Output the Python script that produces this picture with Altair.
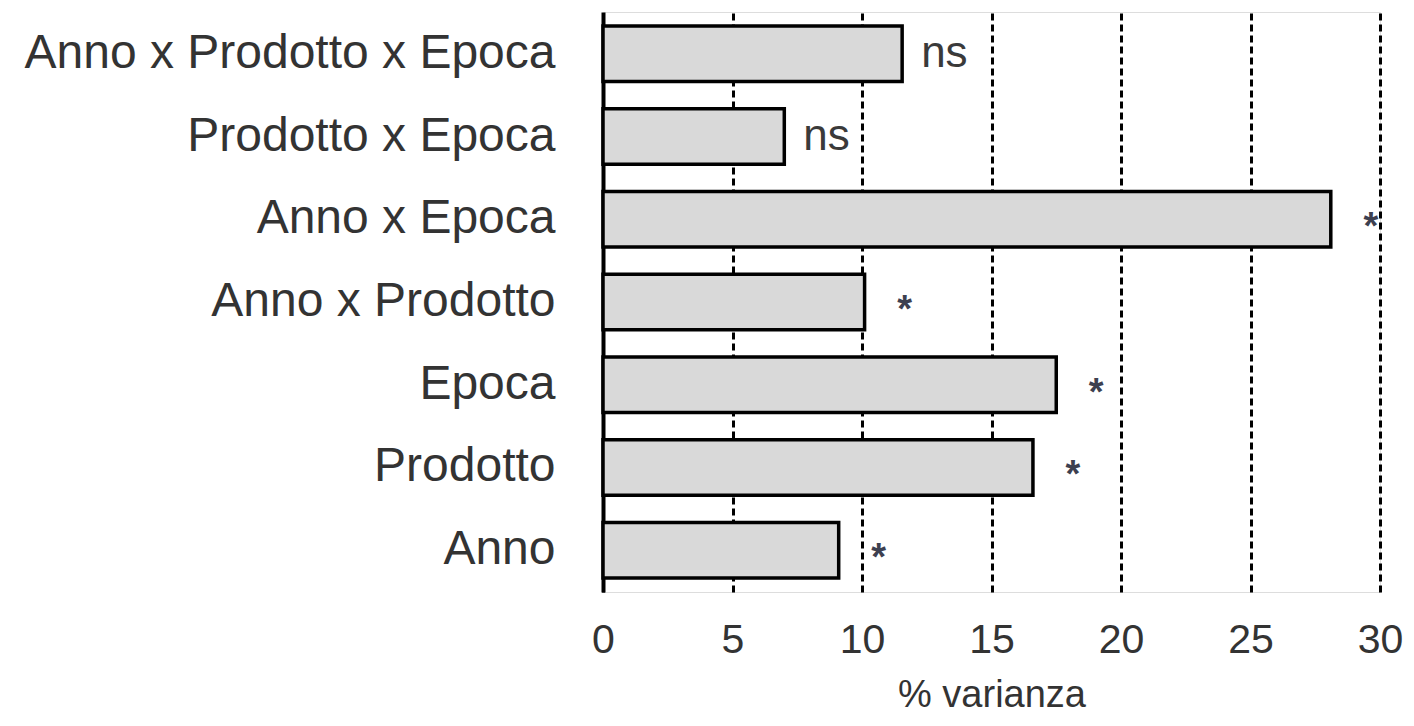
import altair as alt
import pandas as pd

categories = ["Anno x Prodotto x Epoca", "Prodotto x Epoca", "Anno x Epoca",
              "Anno x Prodotto", "Epoca", "Prodotto", "Anno"]
values = [11.55, 7.0, 28.1, 10.1, 17.5, 16.6, 9.1]
signif = ["ns", "ns", "*", "*", "*", "*", "*"]
x_ticks = [0, 5, 10, 15, 20, 25, 30]

df = pd.DataFrame({"cat": categories, "val": values, "sig": signif})

FONT = "Liberation Sans"

y_enc = alt.Y("cat:N", sort=categories, title=None,
              scale=alt.Scale(paddingInner=0.33, paddingOuter=0.17),
              axis=alt.Axis(labelFontSize=48, labelColor="#333333", labelFont=FONT,
                            labelPadding=48, ticks=False, domain=True,
                            domainColor="black", domainWidth=4, grid=False,
                            labelLimit=800))
x_enc = alt.X("val:Q", title="% varianza",
              scale=alt.Scale(domain=[0, 30], nice=False),
              axis=alt.Axis(values=x_ticks, labelFontSize=41, labelColor="#333333",
                            labelFont=FONT, labelPadding=28, ticks=False, domain=False,
                            labelFlush=False,
                            grid=True, gridColor="black", gridWidth=3,
                            gridDash=[7, 4], gridOpacity=1,
                            titleFontSize=38, titleFont=FONT, titleColor="#333333",
                            titleFontWeight="normal", titlePadding=16))

base = alt.Chart(df)

bars = base.mark_bar(fill="#d9d9d9", stroke="black", strokeWidth=3.5).encode(
    x=x_enc, y=y_enc)

ns_text = base.transform_filter(alt.datum.sig == "ns").mark_text(
    align="left", baseline="middle", dx=19, fontSize=44, font=FONT, color="#3a3a3a"
).encode(x="val:Q", y=alt.Y("cat:N", sort=categories), text="sig:N")

star_text = base.transform_filter(alt.datum.sig == "*").mark_text(
    align="center", baseline="middle", dx=40, dy=9, fontSize=38, font=FONT,
    color="#3d4050", fontWeight="bold"
).encode(x="val:Q", y=alt.Y("cat:N", sort=categories), text="sig:N")

chart = alt.layer(bars, ns_text, star_text).properties(
    width=777, height=580,
    autosize=alt.AutoSizeParams(type="none"),
    padding={"left": 595, "top": 4, "right": 26, "bottom": 124},
).configure_view(stroke=None).configure(background="white")

chart.save("out.html", embed_options={"renderer": "svg", "actions": False})
